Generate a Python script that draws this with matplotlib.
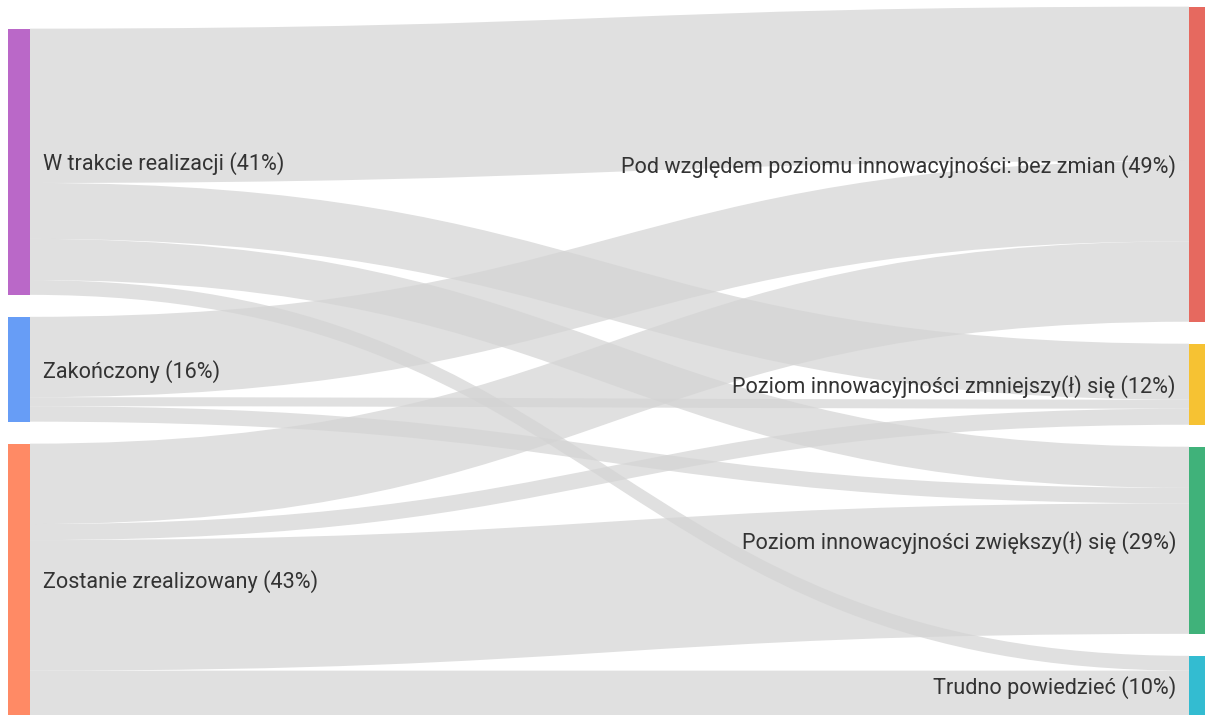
import matplotlib.pyplot as plt
from matplotlib.path import Path
from matplotlib.patches import PathPatch, Rectangle

plt.rcParams['font.family'] = ['Roboto', 'DejaVu Sans']

# source nodes (left) and target nodes (right)
sources = ['W trakcie realizacji (41%)', 'Zakończony (16%)', 'Zostanie zrealizowany (43%)']
targets = ['Pod względem poziomu innowacyjności: bez zmian (49%)',
           'Poziom innowacyjności zmniejszy(ł) się (12%)',
           'Poziom innowacyjności zwiększy(ł) się (29%)',
           'Trudno powiedzieć (10%)']
source_colors = ['#ba68c8', '#679df6', '#ff8a65']
target_colors = ['#e6695f', '#f6c233', '#40b27a', '#33bcd1']

# flows (share of respondents, %): rows = sources, cols = targets
w_trakcie = [24.0, 8.7, 6.4, 2.3]
zakonczony = [12.5, 1.4, 2.4, 0.0]
zostanie = [12.5, 2.5, 20.3, 6.9]
flows = [w_trakcie, zakonczony, zostanie]

W, H = 1205, 715
fig = plt.figure(figsize=(W / 100, H / 100), dpi=100)
ax = fig.add_axes([0, 0, 1, 1])
ax.set_xlim(0, W)
ax.set_ylim(H, 0)
ax.axis('off')

scale = 6.43      # px per unit
gap = 22
node_w = 22
x_left, x_right = 8, 1189
bottom = 715

src_tot = [sum(r) for r in flows]
tgt_tot = [sum(flows[i][j] for i in range(len(sources))) for j in range(len(targets))]


def stack(totals):
    h = sum(totals) * scale + gap * (len(totals) - 1)
    y = bottom - h
    tops = []
    for t in totals:
        tops.append(y)
        y += t * scale + gap
    return tops


src_top = stack(src_tot)
tgt_top = stack(tgt_tot)

# links
src_off = list(src_top)
tgt_off = list(tgt_top)
x0 = x_left + node_w
x1 = x_right
xm = (x0 + x1) / 2
for i in range(len(sources)):
    for j in range(len(targets)):
        v = flows[i][j]
        if v <= 0:
            continue
        h = v * scale
        ys, yt = src_off[i], tgt_off[j]
        verts = [(x0, ys), (xm, ys), (xm, yt), (x1, yt),
                 (x1, yt + h), (xm, yt + h), (xm, ys + h), (x0, ys + h), (x0, ys)]
        codes = [Path.MOVETO, Path.CURVE4, Path.CURVE4, Path.CURVE4,
                 Path.LINETO, Path.CURVE4, Path.CURVE4, Path.CURVE4, Path.CLOSEPOLY]
        ax.add_patch(PathPatch(Path(verts, codes), facecolor='#d4d4d4',
                               edgecolor='none', alpha=0.72))
        src_off[i] += h
        tgt_off[j] += h

# nodes and labels
fs = 15.6
for name, col, top, tot in zip(sources, source_colors, src_top, src_tot):
    ax.add_patch(Rectangle((x_left, top), node_w, tot * scale, facecolor=col, edgecolor='none'))
    ax.text(x_left + node_w + 13, top + tot * scale / 2 + 2, name, ha='left', va='center',
            fontsize=fs, color='#333333')

for name, col, top, tot in zip(targets, target_colors, tgt_top, tgt_tot):
    ax.add_patch(Rectangle((x_right, top), node_w, tot * scale, facecolor=col, edgecolor='none'))
    ax.text(x_right - 13, top + tot * scale / 2 + 2, name, ha='right', va='center',
            fontsize=fs, color='#333333')

fig.savefig('out.png', dpi=100)
